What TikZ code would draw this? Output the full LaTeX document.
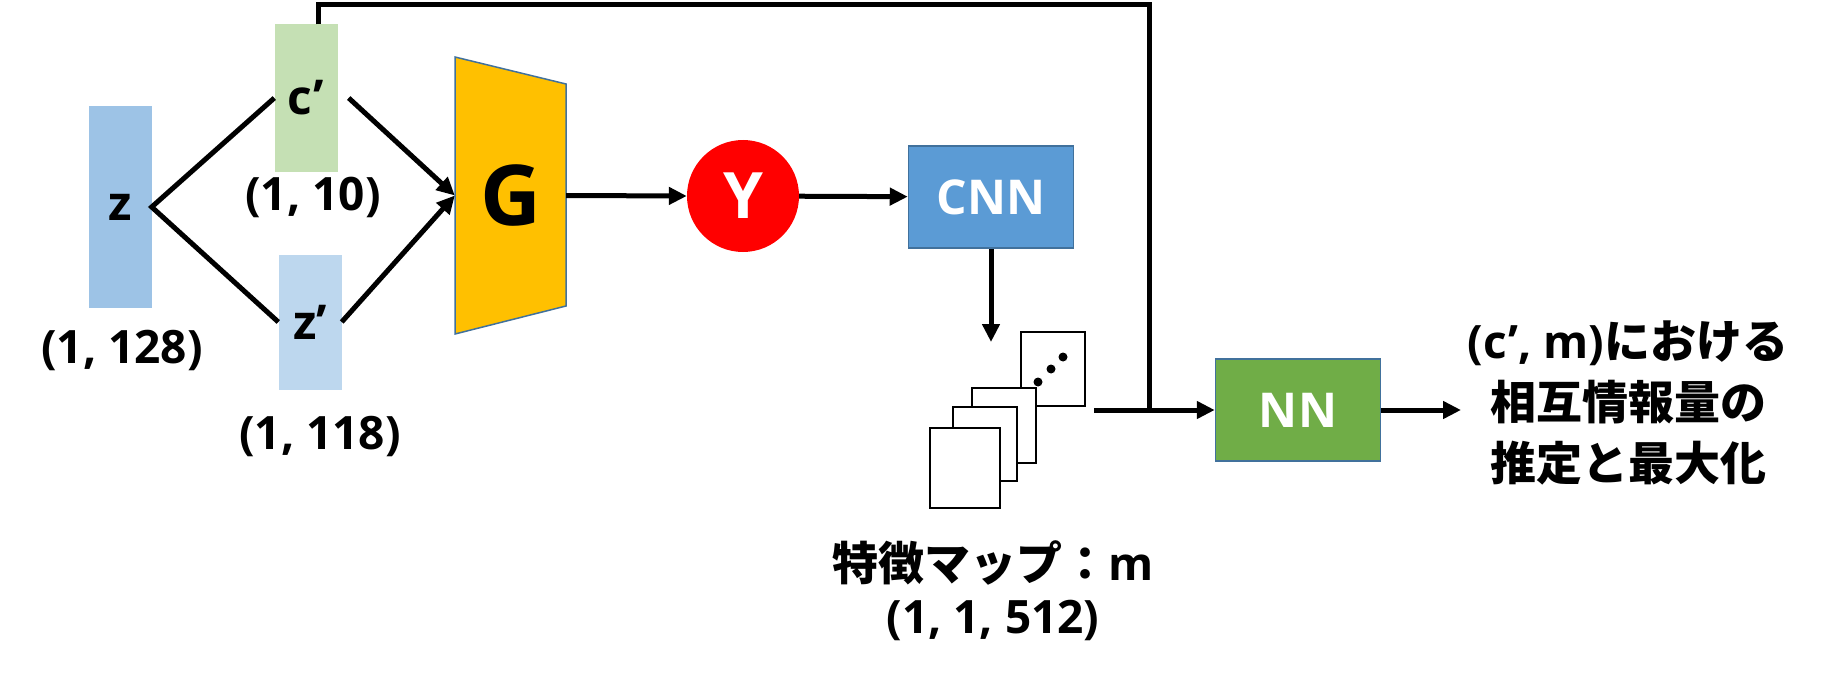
\documentclass[tikz,border=0pt]{standalone}
\usepackage{fontspec}
\setmainfont{Open Sans}
\newfontfamily\jp{Noto Sans CJK JP}
\usetikzlibrary{arrows.meta}

\definecolor{zblue}{HTML}{9DC3E6}
\definecolor{cgreen}{HTML}{C5E0B4}
\definecolor{zlight}{HTML}{BDD7EE}
\definecolor{gold}{HTML}{FFC000}
\definecolor{boxline}{HTML}{41719C}
\definecolor{cnnblue}{HTML}{5B9BD5}
\definecolor{nngreen}{HTML}{70AD47}

\begin{document}
\begin{tikzpicture}[x=1pt, y=-1pt,
    vec/.style={minimum width=63pt, inner sep=0pt, font=\fontsize{48}{58}\selectfont\bfseries},
    lbl/.style={inner sep=0pt, font=\fontsize{46}{58}\selectfont\bfseries},
    box/.style={draw=boxline, line width=1.5pt, minimum width=165pt, minimum height=102pt, text=white, font=\fontsize{48}{60}\selectfont\bfseries},
    wire/.style={line width=5pt},
    flow/.style={line width=5pt, -{Triangle[length=18pt,width=17pt]}},
    sheet/.style={draw, line width=2pt, fill=white, inner sep=0pt}]
    \useasboundingbox (0,0) rectangle (1836,682);

    % input vectors
    \node[vec, fill=zblue, minimum height=201pt] (zvec) at (120,207) {z};
    \node[vec, fill=cgreen, minimum height=147pt] (cvec) at (306,98) {c’};
    \node[vec, fill=zlight, minimum height=135pt] (zpvec) at (310,322) {z’};
    \node[lbl] (zdim) at (122,350) {(1, 128)};
    \node[lbl] (cdim) at (313,197) {(1, 10)};
    \node[lbl] (zpdim) at (320,437) {(1, 118)};

    % generator
    \draw[draw=boxline, line width=1.5pt, fill=gold] (455,57) -- (566,84) -- (566,306) -- (455,334) -- cycle;
    \node[minimum width=111pt, minimum height=277pt, inner sep=0pt, font=\fontsize{84}{90}\selectfont\bfseries] (gen) at (510.5,195.5) {G};

    \node[circle, fill=red, minimum size=112pt, inner sep=0pt, text=white, font=\fontsize{64}{70}\selectfont\bfseries] (yimg) at (743,196) {Y};
    \node[box, fill=cnnblue] (cnn) at (991,197) {CNN};
    \node[box, fill=nngreen] (nn) at (1298,410) {NN};

    % feature maps
    \foreach \cx/\cy/\w/\h [count=\i] in {1053/369/64/74, 1004/425.5/64/75, 985/444/64/74, 965/468/70/80}
      \node[sheet, minimum width=\w pt, minimum height=\h pt] (fm\i) at (\cx,\cy) {};
    \foreach \dx/\dy in {1063/357, 1051/369, 1038/382}
      \fill (\dx,\dy) circle[radius=4.5pt];
    \node[lbl, align=center, font=\fontsize{46}{53}\selectfont\bfseries] (fmlbl) at (993,591) {{\jp 特徴マップ：}m\\(1, 1, 512)};

    \node[lbl, align=center, font=\fontsize{46}{61}\selectfont\bfseries] (mi) at (1628,403) {(c’, m){\jp における}\\{\jp 相互情報量の}\\{\jp 推定と最大化}};

    \coordinate (fmin) at (993,342);
    \coordinate (fmout) at (1094,410);
    \coordinate (miin) at (1461,410);
    \coordinate (topr) at (1149,5);

    \draw[wire] (cvec.west) -- (zvec.east) -- (zpvec.west);
    \draw[flow] ([xshift=11pt]cvec.east) -- (gen.west);
    \draw[flow] (zpvec.east) -- (gen.west);
    \draw[flow] (gen.east) -- (yimg.west);
    \draw[flow] (yimg) -- (cnn);
    \draw[flow] (cnn.south) -- (cnn.south |- fmin);
    \draw[flow] (fmout) -- (nn.west);
    \draw[flow] (nn.east) -- (miin);
    \draw[wire] ([xshift=12pt]cvec.north) |- (topr) -- (topr |- nn.west);
\end{tikzpicture}
\end{document}
